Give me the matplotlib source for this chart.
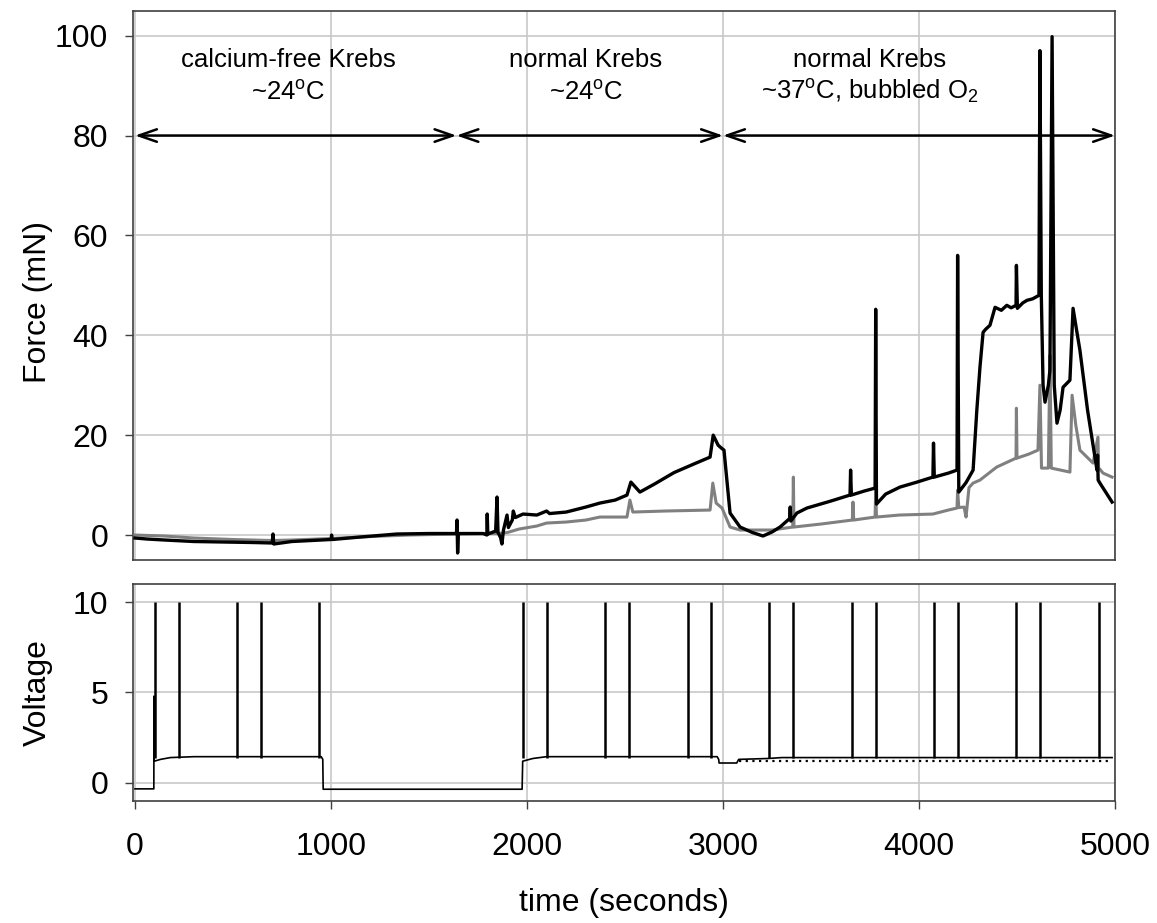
import matplotlib
matplotlib.use("Agg")
import matplotlib.pyplot as plt

plt.rcParams["font.family"] = ["Liberation Sans", "DejaVu Sans"]
plt.rcParams["mathtext.fontset"] = "custom"
plt.rcParams["mathtext.rm"] = "Liberation Sans"
plt.rcParams["mathtext.it"] = "Liberation Sans:italic"

black_t = [0, 60, 150, 300, 450, 600, 700, 704, 708, 800, 950, 1000, 1003, 1006, 1150, 1336, 1500,
           1640, 1643, 1646, 1650, 1776, 1795, 1797, 1800, 1840, 1847, 1852, 1865, 1872, 1880, 1898,
           1905, 1925, 1930, 1940, 1980, 2050, 2100, 2115, 2200, 2300, 2372, 2450, 2510, 2530, 2576,
           2650, 2750, 2850, 2934, 2950, 2975, 2992, 3005, 3036, 3087, 3150, 3204, 3250, 3291, 3340,
           3343, 3346, 3377, 3428, 3550, 3648, 3651, 3655, 3720, 3776, 3779, 3783, 3830, 3903, 3990,
           4071, 4074, 4078, 4150, 4194, 4197, 4203, 4240, 4276, 4295, 4311, 4327, 4340, 4362, 4388,
           4420, 4448, 4470, 4495, 4497, 4502, 4530, 4551, 4580, 4612, 4617, 4624, 4633, 4643, 4660,
           4668, 4679, 4690, 4704, 4720, 4735, 4770, 4786, 4800, 4821, 4860, 4908, 4911, 4914, 4923,
           4985]
black_f = [-0.6, -0.8, -1.0, -1.3, -1.4, -1.5, -1.6, 0.2, -1.8, -1.3, -1.0, -0.9, 0.0, -0.9, -0.4, 0.2, 0.3,
           0.3, 3.0, -3.6, 0.3, 0.3, 0.0, 4.2, 0.2, 0.8, 7.6, 0.5, -0.5, -1.8, 1.0, 4.0,
           1.5, 3.0, 4.8, 3.5, 4.2, 4.0, 4.8, 4.3, 4.6, 5.6, 6.4, 7.0, 8.0, 10.6, 8.6,
           10.2, 12.5, 14.2, 15.6, 20.0, 18.0, 17.4, 17.0, 4.4, 1.6, 0.5, -0.2, 0.6, 1.6, 3.3,
           5.6, 2.8, 4.4, 5.4, 6.8, 8.0, 13.0, 8.0, 8.8, 9.4, 45.2, 6.2, 8.2, 9.6, 10.6,
           11.6, 18.4, 11.6, 12.4, 13.0, 56.0, 8.6, 10.5, 13.0, 25.0, 33.6, 40.6, 41.2, 42.0, 45.6,
           45.0, 46.0, 45.5, 46.0, 54.0, 45.4, 46.5, 47.0, 47.3, 48.0, 97.0, 48.0, 30.0, 26.6, 30.0,
           33.0, 99.8, 30.0, 22.4, 25.0, 29.6, 31.0, 45.4, 42.0, 37.0, 25.0, 13.0, 16.0, 11.0, 10.4,
           6.6]

grey_t = [0, 150, 300, 500, 700, 800, 1000, 1200, 1400, 1640, 1776, 1850, 1900, 1960, 2050, 2100,
          2200, 2300, 2372, 2510, 2525, 2540, 2700, 2934, 2948, 2965, 2995, 3036, 3087, 3250, 3356,
          3359, 3362, 3500, 3660, 3663, 3667, 3776, 3779, 3783, 3900, 4071, 4150, 4194, 4197, 4203,
          4230, 4240, 4255, 4276, 4311, 4396, 4495, 4497, 4500, 4560, 4607, 4617, 4625, 4660, 4668,
          4675, 4770, 4781, 4800, 4821, 4888, 4913, 4916, 4939, 4985]
grey_f = [0.0, -0.2, -0.6, -0.9, -1.1, -1.0, -0.7, -0.3, 0.0, 0.2, 0.3, 0.3, 0.5, 1.2, 1.8, 2.4,
          2.6, 3.0, 3.6, 3.6, 7.0, 4.6, 4.8, 5.0, 10.4, 6.4, 5.4, 1.6, 1.0, 1.0, 1.6,
          11.6, 1.6, 2.2, 3.0, 6.6, 3.0, 3.6, 9.0, 3.6, 4.0, 4.2, 5.0, 5.4, 9.0, 5.5,
          5.6, 3.6, 9.5, 10.4, 11.0, 13.6, 15.4, 25.4, 15.4, 16.2, 17.0, 30.0, 13.4, 13.4, 36.0,
          13.4, 12.6, 28.0, 22.0, 17.0, 14.4, 19.6, 13.5, 12.4, 11.6]

# Stimulator voltage : baseline trace plus the 10 V stimulus spikes
volt_t = [0, 96, 97, 98, 130, 180, 300, 950, 958, 960, 1975, 1978, 2030, 2100, 2970, 2978, 2980,
          3070, 3080, 3230, 3300, 4985]
volt_v = [-0.33, -0.33, 4.8, 1.2, 1.3, 1.4, 1.45, 1.45, 1.3, -0.35, -0.35, 1.2, 1.35, 1.45, 1.45, 1.3, 1.1,
          1.1, 1.3, 1.35, 1.4, 1.4]
ripple_t = [3080, 4985]
ripple_v = [1.22, 1.22]
spike_times = [100, 224, 520, 643, 939, 1980, 2100, 2398, 2520, 2821, 2939,
               3235, 3357, 3658, 3781, 4077, 4199, 4495, 4617, 4918]
spike_base = 1.35
spike_peak = 10

# Solution periods (arrows at 80 mN) and their labels
period_edges = [0, 1640, 3000, 5000]
period_centers = [780, 2300, 3750]
period_line1 = ["calcium-free Krebs", "normal Krebs", "normal Krebs"]
period_line2 = ["~24$^{\\mathrm{o}}$C", "~24$^{\\mathrm{o}}$C", "~37$^{\\mathrm{o}}$C, bubbled O$_{2}$"]

fig = plt.figure(figsize=(11.57, 9.23), dpi=100)
ax1 = fig.add_axes([0.1150, 0.3933, 0.8487, 0.5951])
ax2 = fig.add_axes([0.1150, 0.1322, 0.8487, 0.2351])

grid_c = "#c8c8c8"
for ax in (ax1, ax2):
    ax.set_xlim(-10, 5000)
    ax.set_xticks([0, 1000, 2000, 3000, 4000, 5000])
    ax.grid(True, color=grid_c, lw=1.2)
    ax.set_axisbelow(True)
    for s in ax.spines.values():
        s.set_color("#404040")
        s.set_linewidth(1.2)
    ax.tick_params(axis="y", direction="out", length=6, width=1, pad=12, labelsize=23, color="#404040")
    ax.tick_params(axis="x", direction="out", length=6, width=1, pad=16, labelsize=23, color="#404040")

# Top panel : force
ax1.plot(grey_t, grey_f, color="#808080", lw=2.2, zorder=3)
ax1.plot(black_t, black_f, color="black", lw=2.4, zorder=4)
ax1.set_ylim(-5, 105)
ax1.set_yticks([0, 20, 40, 60, 80, 100])
ax1.tick_params(axis="x", bottom=False, labelbottom=False)
ax1.set_ylabel("Force (mN)", fontsize=23)
ax1.yaxis.set_label_coords(-0.082, 0.47)

for x0, x1 in zip(period_edges[:-1], period_edges[1:]):
    ax1.annotate("", xy=(x1, 80), xytext=(x0, 80),
                 arrowprops=dict(arrowstyle="<->,head_length=1.3,head_width=0.45",
                                 lw=1.8, color="black", shrinkA=0, shrinkB=0), zorder=5)
for xc, l1, l2 in zip(period_centers, period_line1, period_line2):
    ax1.text(xc, 93.8, l1, ha="center", va="baseline", fontsize=18.5)
    ax1.text(xc, 87.2, l2, ha="center", va="baseline", fontsize=18.5)

# Bottom panel : voltage
ax2.plot(volt_t, volt_v, color="black", lw=1.2, zorder=3)
ax2.plot(ripple_t, ripple_v, color="black", lw=1.6, ls=(0, (1, 2)), zorder=3)
ax2.vlines(spike_times, spike_base, spike_peak, color="black", lw=1.8, zorder=3)
ax2.set_ylim(-1, 11)
ax2.set_yticks([0, 5, 10])
ax2.set_ylabel("Voltage", fontsize=23)
ax2.yaxis.set_label_coords(-0.082, 0.5)
ax2.set_xlabel("time (seconds)", fontsize=23)
ax2.xaxis.set_label_coords(0.5, -0.40)

fig.savefig("out.png", dpi=100)
